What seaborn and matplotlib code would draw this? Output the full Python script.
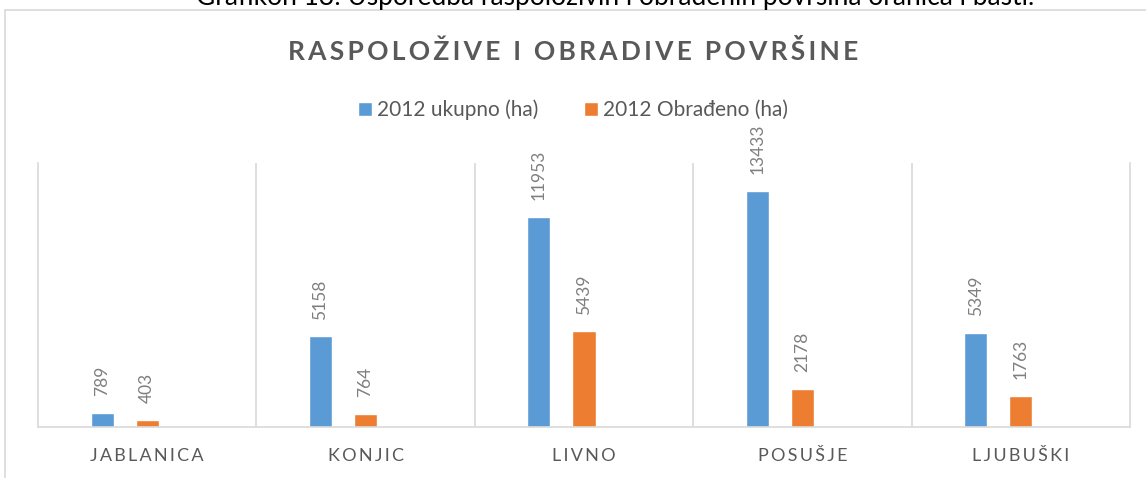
import matplotlib
matplotlib.use("Agg")
import matplotlib.pyplot as plt
from matplotlib.patches import Rectangle
import seaborn as sns
import pandas as pd

# data
municipalities = ["JABLANICA", "KONJIC", "LIVNO", "POSUŠJE", "LJUBUŠKI"]
total_ha = [789, 5158, 11953, 13433, 5349]
cultivated_ha = [403, 764, 5439, 2178, 1763]
series = ["2012 ukupno (ha)", "2012 Obrađeno (ha)"]

BLUE = "#5B9BD5"
ORANGE = "#ED7D31"
TEXT = "#595959"
LABEL = "#7F7F7F"
LINE = "#D9D9D9"
FONT = ["Lato", "DejaVu Sans"]


def spaced(s, sep="\u2009"):
    # fake the letter spacing of the original
    return sep.join(s)


df = pd.DataFrame({
    "opcina": municipalities * 2,
    "serija": [series[0]] * len(municipalities) + [series[1]] * len(municipalities),
    "ha": total_ha + cultivated_ha,
})

sns.set_theme(style="white")
plt.rcParams["font.family"] = FONT

fig = plt.figure(figsize=(11.46, 4.78), dpi=100)
ax = fig.add_axes([38 / 1146, 1 - 427 / 478, (1130 - 38) / 1146, (427 - 163) / 478])

# third (empty) hue level keeps the bars left of centre like the excel original
hue_order = series + ["_empty"]
palette = {series[0]: BLUE, series[1]: ORANGE, "_empty": "white"}
sns.barplot(data=df, x="opcina", y="ha", hue="serija", hue_order=hue_order,
            order=municipalities, palette=palette, width=0.62, gap=0.49,
            saturation=1, ax=ax)

for cont in ax.containers[:2]:
    ax.bar_label(cont, rotation=90, padding=12, color=LABEL, fontsize=12.5)

ax.set_ylim(0, 15000)
ax.set_xlim(-0.5, len(municipalities) - 0.5)
ax.set_yticks([])
ax.set_xlabel("")
ax.set_ylabel("")
ax.set_xticks(range(len(municipalities)))
ax.set_xticklabels([spaced(m) for m in municipalities], color=TEXT, fontsize=13)
ax.tick_params(axis="x", length=0, pad=15)
for x in range(len(municipalities) - 1):
    ax.axvline(x + 0.5, color=LINE, lw=1.2, zorder=0)
for side in ["left", "right", "bottom"]:
    ax.spines[side].set_color(LINE)
    ax.spines[side].set_linewidth(1.2)
ax.spines["top"].set_visible(False)

h, l = ax.get_legend_handles_labels()
ax.legend(h[:2], l[:2], loc="center", bbox_to_anchor=(0.5, 1 - 110 / 478),
          bbox_transform=fig.transFigure, ncol=2, frameon=False,
          fontsize=15, labelcolor=TEXT, handlelength=0.65, handleheight=0.65,
          handletextpad=0.25, columnspacing=2.2)

fig.text(0.5, 1 - 52 / 478, spaced("RASPOLOŽIVE I OBRADIVE POVRŠINE"),
         ha="center", va="center", fontsize=19, weight="bold", color=TEXT)

# caption of the document, cut off by the top edge
fig.text(0.537, 1 - 4.5 / 478,
         "Grafikon 13: Usporedba raspoloživih i obrađenih površina oranica i bašti.",
         ha="center", va="baseline", fontsize=19, color="black")

fig.patches.append(Rectangle((5 / 1146, -0.05), 1.1, 1 - 10.5 / 478 + 0.05,
                             transform=fig.transFigure, fill=False,
                             edgecolor=LINE, lw=1.2))

fig.savefig("out.png", dpi=100)
